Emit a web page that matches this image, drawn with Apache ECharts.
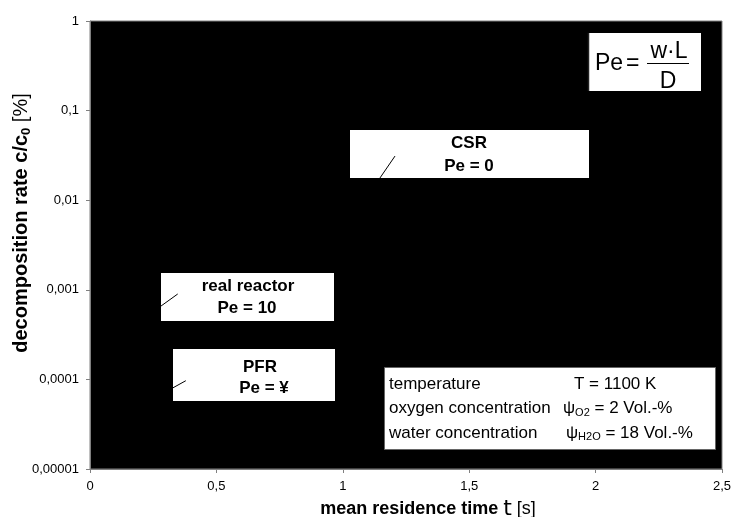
<!DOCTYPE html>
<html><head><meta charset="utf-8">
<script src="https://cdn.jsdelivr.net/npm/echarts@6/dist/echarts.min.js"></script>
<style>html,body{margin:0;padding:0;background:#fff}#c{width:733px;height:517px}</style>
</head><body><div id="c"></div>
<script>
// ---- data ----
const xTickLabels = ['0', '0,5', '1', '1,5', '2', '2,5'];
const yTickLabels = ['0,00001', '0,0001', '0,001', '0,01', '0,1', '1'];
const csrLeader = [[1.2065, 0.0311], [1.147, 0.0177]];
const realLeader = [[0.347, 0.000898], [0.281, 0.000659]];
const pfrLeader = [[0.379, 0.0000967], [0.327, 0.0000802]];
const csrLabel = ['CSR', 'Pe = 0'];
const realLabel = ['real reactor', 'Pe = 10'];
const pfrLabel = ['PFR', 'Pe = ¥'];
const condNames = ['temperature', 'oxygen concentration', 'water concentration'];
const condValues = ['T = 1100 K', '{p|ψ}{s|O2}{n| = 2 Vol.-%}', '{p|ψ}{s|H2O}{n| = 18 Vol.-%}'];

const FF = '"Liberation Sans", Arial, sans-serif';
const chart = echarts.init(document.getElementById('c'), null, {renderer: 'canvas'});

function boxText(cx, cy, txt, size, bold) {
  return {type: 'text', z: 3, style: {text: txt, x: cx, y: cy, align: 'center', verticalAlign: 'middle',
    font: (bold ? 'bold ' : '') + size + 'px ' + FF, fill: '#000'}};
}
const richSub = {
  p: {fontSize: 17, fontFamily: FF, fill: '#000'},
  s: {fontSize: 11, fontFamily: FF, padding: [8, 0, 0, 0], fill: '#000'},
  n: {fontSize: 17, fontFamily: FF, fill: '#000'}
};

const graphics = [
  // Peclet formula box
  {type: 'rect', z: 1, shape: {x: 588, y: 33, width: 113, height: 58}, style: {fill: '#fff'}},
  {type: 'line', z: 2, shape: {x1: 588.5, y1: 33, x2: 588.5, y2: 91}, style: {stroke: '#222', lineWidth: 1.5}},
  {type: 'text', z: 3, style: {text: 'Pe', x: 595, y: 64, verticalAlign: 'middle', font: '23px ' + FF, fill: '#000'}},
  {type: 'text', z: 3, style: {text: '=', x: 626, y: 64, verticalAlign: 'middle', font: '23px ' + FF, fill: '#000'}},
  boxText(669, 52, 'w·L', 23, false),
  {type: 'line', z: 2, shape: {x1: 647, y1: 63.5, x2: 689, y2: 63.5}, style: {stroke: '#000', lineWidth: 1}},
  boxText(668, 82, 'D', 23, false),
  // CSR
  {type: 'rect', z: 1, shape: {x: 350, y: 130, width: 239, height: 48}, style: {fill: '#fff'}},
  boxText(469, 143.5, csrLabel[0], 17, true),
  boxText(469, 166.5, csrLabel[1], 17, true),
  // real reactor
  {type: 'rect', z: 1, shape: {x: 161, y: 273, width: 173, height: 48}, style: {fill: '#fff'}},
  boxText(248, 286.5, realLabel[0], 17, true),
  boxText(247, 308.5, realLabel[1], 17, true),
  // PFR
  {type: 'rect', z: 1, shape: {x: 173, y: 349, width: 162, height: 52}, style: {fill: '#fff'}},
  boxText(260, 367, pfrLabel[0], 17, true),
  boxText(264, 388, pfrLabel[1], 17, true),
  // conditions
  {type: 'rect', z: 1, shape: {x: 384.5, y: 367.5, width: 331, height: 82}, style: {fill: '#fff', stroke: '#666', lineWidth: 1}},
];
condNames.forEach((t, i) => {
  graphics.push({type: 'text', z: 3, style: {text: t, x: 389, y: 384 + i * 24.5, verticalAlign: 'middle', font: '17px ' + FF, fill: '#000'}});
});
const condX = [574, 563, 566];
condValues.forEach((t, i) => {
  graphics.push({type: 'text', z: 3, style: {text: t, x: condX[i], y: 384 + i * 24.5, verticalAlign: 'middle', font: '17px ' + FF, fill: '#000', rich: richSub}});
});

function leader(name, d) {
  return {name: name, type: 'line', data: d, z: 10, symbol: 'none', silent: true,
    lineStyle: {color: '#000', width: 1}, animation: false};
}

chart.setOption({
  animation: false,
  backgroundColor: '#fff',
  textStyle: {fontFamily: FF},
  grid: {left: 90, right: 11, top: 21, bottom: 48, show: true, backgroundColor: '#000', borderColor: '#808080', borderWidth: 1,
    containLabel: false, outerBoundsMode: 'none'},
  xAxis: {
    type: 'value', min: 0, max: 2.5, interval: 0.5,
    axisLine: {show: true, lineStyle: {color: '#808080'}},
    axisTick: {show: true, length: 4, lineStyle: {color: '#808080'}},
    splitLine: {show: false},
    axisLabel: {color: '#000', fontSize: 13, fontFamily: FF, margin: 11,
      formatter: v => xTickLabels[Math.round(v / 0.5)]},
    name: '{b|mean residence time }{t|t}{n| [s]}',
    nameLocation: 'middle', nameGap: 29, nameMoveOverlap: false,
    nameTextStyle: {padding: [0, 0, 0, 44], rich: {
      b: {fontSize: 18, fontWeight: 'bold', fontFamily: FF, color: '#000'},
      t: {fontSize: 22, fontFamily: '"DejaVu Sans", sans-serif', color: '#000'},
      n: {fontSize: 18, fontFamily: FF, color: '#000'}}}
  },
  yAxis: {
    type: 'log', logBase: 10, min: 0.00001, max: 1,
    axisLine: {show: true, lineStyle: {color: '#808080'}},
    axisTick: {show: true, length: 4, lineStyle: {color: '#808080'}},
    splitLine: {show: false},
    minorTick: {show: false},
    axisLabel: {color: '#000', fontSize: 13, fontFamily: FF, margin: 11,
      formatter: v => yTickLabels[Math.round(Math.log10(v)) + 5]},
    name: '{b|decomposition rate c/c}{s|0}{n| [%]}',
    nameLocation: 'middle', nameGap: 57, nameMoveOverlap: false,
    nameTextStyle: {padding: [0, 0, 0, 44], rich: {
      b: {fontSize: 20, fontWeight: 'bold', fontFamily: FF, color: '#000'},
      s: {fontSize: 13, fontWeight: 'bold', fontFamily: FF, color: '#000', padding: [10, 0, 0, 0]},
      n: {fontSize: 20, fontFamily: FF, color: '#000'}}}
  },
  series: [leader('CSR', csrLeader), leader('real reactor', realLeader), leader('PFR', pfrLeader)],
  graphic: graphics
});
</script></body></html>
